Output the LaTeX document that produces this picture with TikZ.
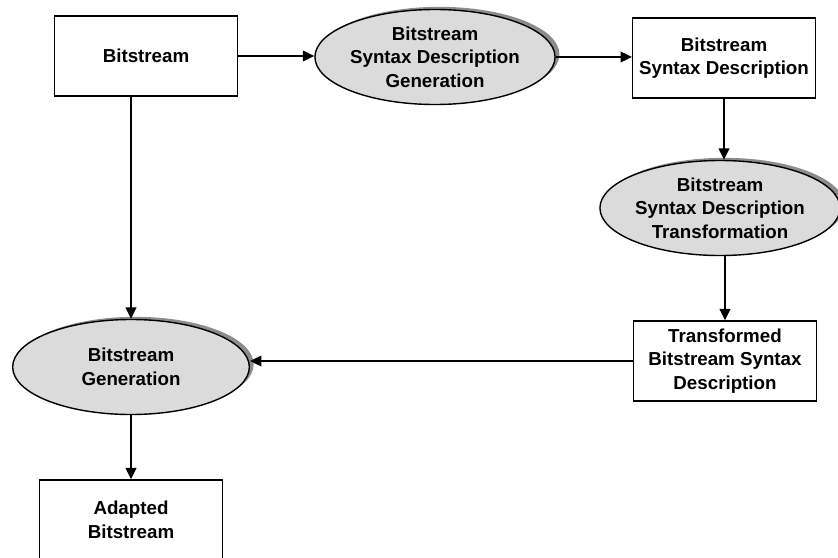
\documentclass[tikz,border=0pt]{standalone}
\usepackage{fontspec}
\setmainfont{Liberation Sans}
\usetikzlibrary{shapes.geometric, arrows.meta, shadows}

\begin{document}
\begin{tikzpicture}[x=0.03cm, y=-0.03cm,
  txt/.style={align=center, font=\bfseries\fontsize{16}{20}\selectfont},
  box/.style={txt, draw, line width=1.2pt, fill=white, minimum width=5.48cm, minimum height=2.4cm, inner sep=2pt},
  proc/.style={txt, ellipse, draw, line width=1.2pt, fill=black!14, minimum width=7.1cm, minimum height=2.85cm, inner sep=0pt,
    drop shadow={shadow xshift=0.13cm, shadow yshift=0.08cm, fill=black!45, opacity=1}},
  flow/.style={-{Triangle[length=0.34cm, width=0.32cm]}, line width=1.2pt}]
  \useasboundingbox (0,0) rectangle (838,557);

  % Top row
  \node[box] (bits) at (146, 56) {Bitstream};
  \node[proc] (bsdgen) at (435, 57) {Bitstream\\Syntax Description\\Generation};
  \node[box] (bsd) at (724, 58) {Bitstream\\Syntax Description};

  % Right column
  \node[proc, minimum width=6.95cm] (bsdtrans) at (720, 208) {Bitstream\\Syntax Description\\Transformation};
  \node[box] (trans) at (725, 361) {Transformed\\Bitstream Syntax\\Description};

  % Left column
  \node[proc] (bsgen) at (131, 367) {Bitstream\\Generation};
  \node[box] (adapted) at (131, 520) {Adapted\\Bitstream};

  \draw[flow] (bits.east) -- (bits.east -| bsdgen.west);
  \draw[flow] (bsdgen.east) -- (bsdgen.east -| bsd.west);
  \draw[flow] (bsd.south) -- (bsd.south |- bsdtrans.north);
  \draw[flow] (bsdtrans.south -| trans.north) -- (trans.north);
  \draw[flow] (trans.west) -- (trans.west -| bsgen.east);
  \draw[flow] (bits.south -| bsgen.north) -- (bsgen.north);
  \draw[flow] (bsgen.south) -- (adapted.north);
\end{tikzpicture}
\end{document}
